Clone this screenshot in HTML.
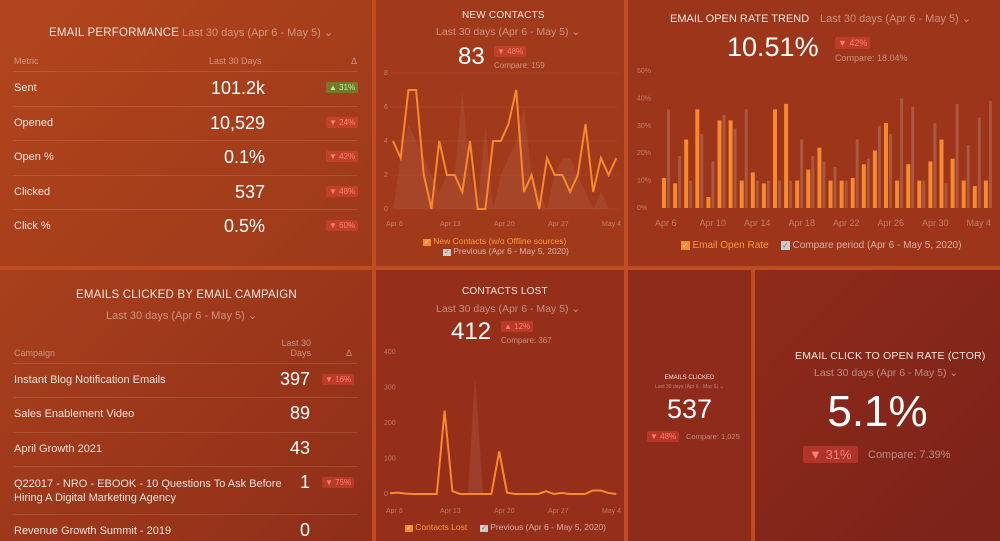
<!DOCTYPE html>
<html><head><meta charset="utf-8">
<style>
*{margin:0;padding:0;box-sizing:border-box}
body{width:1000px;height:541px;overflow:hidden;background:#c04c22;font-family:"Liberation Sans",sans-serif;color:#fff;position:relative}
.p{position:absolute;overflow:hidden}
.t{position:absolute;font-size:11px;color:#f5e6df;letter-spacing:.2px;white-space:nowrap}
.d{position:absolute;font-size:10.5px;color:rgba(255,255,255,.45);white-space:nowrap}
.s{position:absolute;font-size:9px;color:rgba(255,255,255,.45);white-space:nowrap}
.bad{position:absolute;background:rgba(230,70,60,.45);color:#ff8070;font-size:8px;padding:1px 3px;border-radius:2px}
.row{position:absolute;left:13px;right:15px;border-top:1px solid rgba(255,255,255,.12)}
.lab{position:absolute;font-size:11px;color:rgba(255,255,255,.85)}
.num{position:absolute;font-size:18px;color:#fff;text-align:right}
svg{position:absolute;left:0;top:0}
</style></head><body>
<div class="p" style="left:0;top:0;width:372px;height:266px;background:linear-gradient(135deg,#b2451c,#9d391a)">
 <div class="t" style="left:49px;top:27px;font-size:11.5px">EMAIL PERFORMANCE</div>
 <div class="d" style="left:182px;top:26px;font-size:11px">Last 30 days (Apr 6 - May 5) ⌄</div>
 <div class="s" style="left:14px;top:56px">Metric</div><div class="s" style="left:209px;top:56px">Last 30 Days</div><div class="s" style="left:351px;top:56px">Δ</div>
 <div class="row" style="top:71px"></div><div class="row" style="top:106px"></div><div class="row" style="top:140px"></div><div class="row" style="top:175px"></div><div class="row" style="top:209px"></div>
 <div class="lab" style="left:14px;top:82px">Sent</div><div class="num" style="right:107px;top:78px">101.2k</div><div class="bad" style="left:326px;top:82px;background:rgba(90,160,60,.6);color:#9f9">▲ 31%</div>
 <div class="lab" style="left:14px;top:117px">Opened</div><div class="num" style="right:107px;top:113px">10,529</div><div class="bad" style="left:326px;top:117px">▼ 24%</div>
 <div class="lab" style="left:14px;top:151px">Open %</div><div class="num" style="right:107px;top:147px">0.1%</div><div class="bad" style="left:326px;top:151px">▼ 42%</div>
 <div class="lab" style="left:14px;top:186px">Clicked</div><div class="num" style="right:107px;top:182px">537</div><div class="bad" style="left:326px;top:186px">▼ 48%</div>
 <div class="lab" style="left:14px;top:220px">Click %</div><div class="num" style="right:107px;top:216px">0.5%</div><div class="bad" style="left:326px;top:220px">▼ 60%</div>
</div>
<div class="p" style="left:376px;top:0;width:248px;height:266px;background:#a13a1b">
 <div class="t" style="left:86px;top:10px;font-size:10px">NEW CONTACTS</div>
 <div class="d" style="left:60px;top:26px">Last 30 days (Apr 6 - May 5) ⌄</div>
 <div style="position:absolute;left:82px;top:43px;font-size:24px">83</div>
 <div class="bad" style="left:118px;top:46px">▼ 48%</div><div class="s" style="left:118px;top:61px;font-size:8px">Compare: 159</div>
 <div class="s" style="left:47px;top:236px;font-size:8.5px;color:#ff9a3a"><span style="background:#f7892e;color:#fff;font-size:7px;padding:0 1px">✓</span> New Contacts (w/o Offline sources)</div>
 <div class="s" style="left:67px;top:246px;font-size:8.5px;color:rgba(255,255,255,.6)"><span style="background:#ccc;color:#777;font-size:7px;padding:0 1px">✓</span> Previous (Apr 6 - May 5, 2020)</div>
</div>
<div class="p" style="left:628px;top:0;width:372px;height:266px;background:#9c3519">
 <div class="t" style="left:42px;top:13px;font-size:11px;letter-spacing:0">EMAIL OPEN RATE TREND</div>
 <div class="d" style="left:192px;top:12px;font-size:11px">Last 30 days (Apr 6 - May 5) ⌄</div>
 <div style="position:absolute;left:99px;top:32px;font-size:27px">10.51%</div>
 <div class="bad" style="left:207px;top:37px;font-size:9px">▼ 42%</div><div class="s" style="left:207px;top:53px;font-size:9px">Compare: 18.04%</div>
 <div class="s" style="left:53px;top:240px;font-size:10px;color:#ff9a3a"><span style="background:#f7892e;color:#fff;font-size:8px;padding:0 1px">✓</span> Email Open Rate</div>
 <div class="s" style="left:153px;top:240px;font-size:10px;color:rgba(255,255,255,.6)"><span style="background:#ccc;color:#777;font-size:8px;padding:0 1px">✓</span> Compare period (Apr 6 - May 5, 2020)</div>
</div>
<div class="p" style="left:0;top:270px;width:372px;height:271px;background:linear-gradient(135deg,#a8401c,#8f2e19)">
 <div class="t" style="left:76px;top:19px;font-size:11.5px">EMAILS CLICKED BY EMAIL CAMPAIGN</div>
 <div class="d" style="left:106px;top:39px;font-size:11px">Last 30 days (Apr 6 - May 5) ⌄</div>
 <div class="s" style="left:14px;top:78px">Campaign</div><div class="s" style="left:278px;top:68px;text-align:right;width:33px;white-space:normal">Last 30 Days</div><div class="s" style="left:346px;top:78px">Δ</div>
 <div class="row" style="top:93px"></div><div class="row" style="top:127px"></div><div class="row" style="top:162px"></div><div class="row" style="top:196px"></div><div class="row" style="top:244px"></div>
 <div class="lab" style="left:14px;top:104px">Instant Blog Notification Emails</div><div class="num" style="right:62px;top:99px">397</div><div class="bad" style="left:322px;top:104px">▼ 16%</div>
 <div class="lab" style="left:14px;top:138px">Sales Enablement Video</div><div class="num" style="right:62px;top:133px">89</div>
 <div class="lab" style="left:14px;top:173px">April Growth 2021</div><div class="num" style="right:62px;top:168px">43</div>
 <div class="lab" style="left:14px;top:207px;line-height:14px">Q22017 - NRO - EBOOK - 10 Questions To Ask Before<br>Hiring A Digital Marketing Agency</div><div class="num" style="right:62px;top:202px">1</div><div class="bad" style="left:322px;top:207px">▼ 75%</div>
 <div class="lab" style="left:14px;top:255px">Revenue Growth Summit - 2019</div><div class="num" style="right:62px;top:250px">0</div>
</div>
<div class="p" style="left:376px;top:270px;width:248px;height:271px;background:#952f19">
 <div class="t" style="left:86px;top:16px;font-size:10px">CONTACTS LOST</div>
 <div class="d" style="left:60px;top:33px">Last 30 days (Apr 6 - May 5) ⌄</div>
 <div style="position:absolute;left:75px;top:48px;font-size:24px">412</div>
 <div class="bad" style="left:125px;top:51px">▲ 12%</div><div class="s" style="left:125px;top:66px;font-size:8px">Compare: 367</div>
 <div class="s" style="left:29px;top:252px;font-size:8.5px;color:#ff9a3a"><span style="background:#f7892e;color:#fff;font-size:7px;padding:0 1px">✓</span> Contacts Lost</div>
 <div class="s" style="left:104px;top:252px;font-size:8.5px;color:rgba(255,255,255,.6)"><span style="background:#ccc;color:#777;font-size:7px;padding:0 1px">✓</span> Previous (Apr 6 - May 5, 2020)</div>
</div>
<div class="p" style="left:628px;top:270px;width:123px;height:271px;background:#8e2b1a;text-align:center">
 <div style="position:absolute;left:0;right:0;top:105px;font-size:6px;color:#f0ddd6">EMAILS CLICKED</div>
 <div style="position:absolute;left:0;right:0;top:114px;font-size:5px;color:rgba(255,255,255,.4)">Last 30 days (Apr 6 - May 5) ⌄</div>
 <div style="position:absolute;left:0;right:0;top:124px;font-size:27px">537</div>
 <div class="bad" style="left:19px;top:161px">▼ 48%</div><div class="s" style="left:58px;top:162px;font-size:7.5px">Compare: 1,025</div>
</div>
<div class="p" style="left:755px;top:270px;width:245px;height:271px;background:linear-gradient(135deg,#8f2b1b,#7b2219)">
 <div class="t" style="left:40px;top:80px;font-size:10.5px">EMAIL CLICK TO OPEN RATE (CTOR)</div>
 <div class="d" style="left:59px;top:97px">Last 30 days (Apr 6 - May 5) ⌄</div>
 <div style="position:absolute;left:0;right:0;text-align:center;top:117px;font-size:44px">5.1%</div>
 <div class="bad" style="left:48px;top:176px;font-size:13px;padding:1px 6px">▼ 31%</div><div class="s" style="left:113px;top:179px;font-size:11px">Compare: 7.39%</div>
</div>
<svg id="g" width="1000" height="541" font-family="Liberation Sans" font-size="7" fill="rgba(255,255,255,.35)"></svg>
<script>
var s='';
var nc=[4,3,7,7,2,0,4,2,2,1,4,0,0,4,4,5,7,1,2,0,3,2,2,1,2,5,1,3,2,3];
var pv=[0,3,5,4,3,2,1,2,2,7,2,0,5,0,2,3,4,6,2,1,0,2,3,3,2,1,0,1,0,0];
function X1(i){return 393+i*7.7}
[0,2,4,6,8].forEach(function(v){var y=209-v*17;s+='<text x="384" y="'+(y+2)+'">'+v+'</text><line x1="390" x2="618" y1="'+y+'" y2="'+y+'" stroke="rgba(255,255,255,.05)"/>'});
var a='M393,209 ';pv.forEach(function(v,i){a+='L'+X1(i)+','+(209-v*17)+' '});a+='L'+X1(29)+',209Z';
s+='<path d="'+a+'" fill="rgba(255,255,255,.06)"/>';
var l='';nc.forEach(function(v,i){l+=(i?'L':'M')+X1(i)+','+(209-v*17)+' '});
s+='<path d="'+l+'" fill="none" stroke="#f7892e" stroke-width="2"/>';
['Apr 6','Apr 13','Apr 20','Apr 27','May 4'].forEach(function(t,i){s+='<text x="'+(386+i*54)+'" y="226">'+t+'</text>'});
var cl=[2,4,1,0,0,0,0,235,8,0,0,0,0,0,120,4,0,0,0,0,8,0,3,0,0,0,10,10,3,0];
function X2(i){return 390+i*7.8}
[0,100,200,300,400].forEach(function(v){var y=494-v*0.355;s+='<text x="384" y="'+(y+2)+'">'+v+'</text>'});
s+='<path d="M468,494 L475,374 L483,494Z" fill="rgba(255,255,255,.08)"/>';
l='';cl.forEach(function(v,i){l+=(i?'L':'M')+X2(i)+','+(494-v*0.355)+' '});
s+='<path d="'+l+'" fill="none" stroke="#f7892e" stroke-width="2"/>';
['Apr 6','Apr 13','Apr 20','Apr 27','May 4'].forEach(function(t,i){s+='<text x="'+(386+i*54)+'" y="513">'+t+'</text>'});
var ob=[11,9,25,36,4,32,32,10,13,9,36,38,10,14,22,10,10,11,16,21,31,10,16,10,17,25,18,10,8,10];
var gb=[36,19,10,27,17,34,29,36,10,10,10,10,25,19,17,15,10,25,18,30,27,40,37,10,31,9,38,23,33,39];
[0,10,20,30,40,50].forEach(function(v){var y=208-v*2.74;s+='<text x="637" y="'+(y+2)+'">'+v+'%</text>'});
for(var i=0;i<30;i++){var x=662+i*11.1;s+='<rect x="'+(x+5)+'" y="'+(208-gb[i]*2.74)+'" width="3" height="'+(gb[i]*2.74)+'" fill="rgba(255,255,255,.17)"/><rect x="'+x+'" y="'+(208-ob[i]*2.74)+'" width="4" height="'+(ob[i]*2.74)+'" fill="#f7892e"/>';}
['Apr 6','Apr 10','Apr 14','Apr 18','Apr 22','Apr 26','Apr 30','May 4'].forEach(function(t,i){s+='<text x="'+(655+i*44.5)+'" y="226" font-size="9">'+t+'</text>'});
document.getElementById('g').innerHTML=s;
</script>
</body></html>
